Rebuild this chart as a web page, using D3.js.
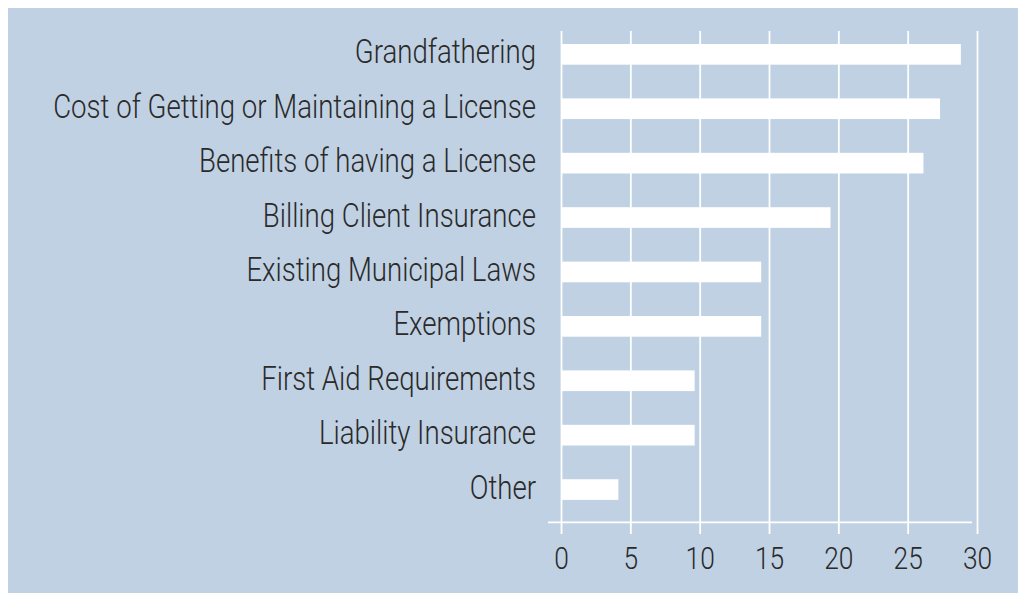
<!DOCTYPE html>
<html><head><meta charset="utf-8">
<script src="https://cdn.jsdelivr.net/npm/d3@7/dist/d3.min.js"></script>
<style>html,body{margin:0;padding:0;background:#fff;}</style>
</head><body>
<svg id="chart" width="1018" height="593"></svg>
<script>
const categories = ["Grandfathering","Cost of Getting or Maintaining a License","Benefits of having a License","Billing Client Insurance","Existing Municipal Laws","Exemptions","First Aid Requirements","Liability Insurance","Other"];
const values = [28.8, 27.3, 26.1, 19.4, 14.4, 14.4, 9.6, 9.6, 4.1];
const tickValues = [0, 5, 10, 15, 20, 25, 30];

const svg = d3.select("#chart");
const FONT = "Roboto, 'Open Sans', sans-serif";
svg.append("rect").attr("x", 8).attr("y", 8).attr("width", 1010).attr("height", 585).attr("fill", "#c0d1e3");

const x = d3.scaleLinear().domain([0, 30]).range([561.5, 977.5]);
const y = d3.scaleBand().domain(categories).range([31, 512.9]).paddingInner(0.62).paddingOuter(0.239);

// gridlines
svg.append("g").selectAll("line").data(tickValues).join("line")
  .attr("x1", d => x(d)).attr("x2", d => x(d))
  .attr("y1", 31).attr("y2", 534)
  .attr("stroke", "#fff").attr("stroke-width", 1.8);

// axis baseline
svg.append("line").attr("x1", 548).attr("x2", 972).attr("y1", 522.3).attr("y2", 522.3)
  .attr("stroke", "#fff").attr("stroke-width", 1.8);

// bars
svg.append("g").selectAll("rect").data(values).join("rect")
  .attr("x", x(0) + 0.5)
  .attr("y", (d, i) => y(categories[i]))
  .attr("width", d => x(d) - x(0) - 0.5)
  .attr("height", y.bandwidth())
  .attr("fill", "#fff");

// category labels
const labG = svg.append("g");
const labs = labG.selectAll("text").data(categories).join("text")
  .attr("x", 0)
  .attr("y", d => y(d) + y.bandwidth() / 2 + 9)
  .attr("text-anchor", "end")
  .attr("font-family", FONT).attr("font-weight", 300)
  .attr("font-size", 32.5).attr("fill", "#2a2a2a")
  .text(d => d);
let maxW = 0;
labs.each(function () { maxW = Math.max(maxW, this.getComputedTextLength()); });
const sx = 483 / maxW;
labG.attr("transform", `translate(536,0) scale(${sx},1)`);

// tick labels
const tG = svg.append("g");
tG.selectAll("text").data(tickValues).join("text")
  .attr("transform", d => `translate(${x(d)},569) scale(${sx},1)`)
  .attr("text-anchor", "middle")
  .attr("font-family", FONT).attr("font-weight", 300)
  .attr("font-size", 31).attr("fill", "#2a2a2a")
  .text(d => d);
</script>
</body></html>
